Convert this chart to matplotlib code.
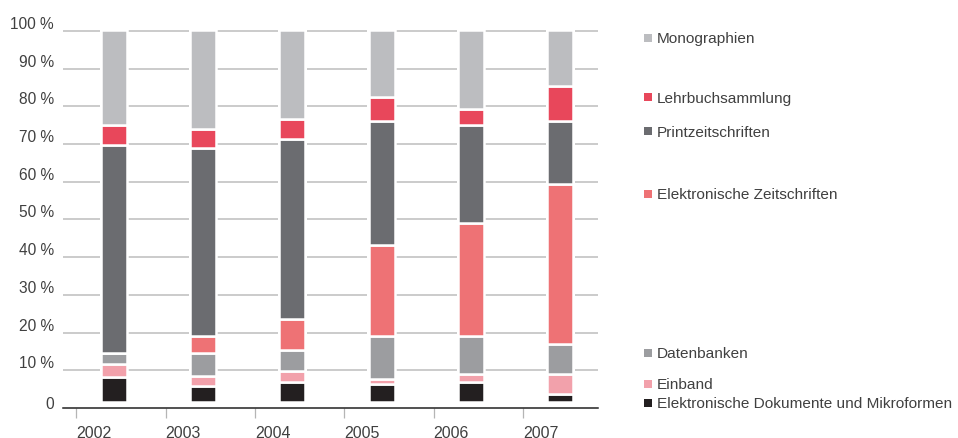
import matplotlib.pyplot as plt
from matplotlib.patches import Rectangle
from matplotlib.transforms import ScaledTranslation
import numpy as np

plt.rcParams['font.family'] = ['Liberation Sans', 'DejaVu Sans']

# Data: share of acquisition budget per year (percent), bottom to top of the stack
years = ['2002', '2003', '2004', '2005', '2006', '2007']
edokumente = [6.6, 4.2, 5.5, 4.9, 5.4, 2.1]
einband = [3.7, 2.7, 2.9, 1.3, 2.1, 5.4]
datenbanken = [2.8, 6.3, 5.5, 11.6, 10.3, 8.1]
ezeitschriften = [0.0, 4.5, 8.4, 24.4, 30.2, 42.9]
printzeitschriften = [56.1, 50.6, 48.4, 33.3, 26.4, 17.1]
lehrbuch = [5.2, 5.1, 5.3, 6.5, 4.3, 9.2]
monographien = [25.6, 26.6, 24.0, 18.0, 21.3, 15.2]

series = [edokumente, einband, datenbanken, ezeitschriften,
          printzeitschriften, lehrbuch, monographien]
names = ['Elektronische Dokumente und Mikroformen', 'Einband', 'Datenbanken',
         'Elektronische Zeitschriften', 'Printzeitschriften',
         'Lehrbuchsammlung', 'Monographien']
colors = ['#231f20', '#f2a1ab', '#9c9da0', '#ee7275', '#6b6c70',
          '#e8475b', '#bcbdc0']

# legend rows are placed next to the bars (pixel y from top), same order as series
legend_y_px = [403.8, 384.8, 353.8, 194.8, 132.2, 98.0, 38.8]

text_color = '#404040'
W, H = 958, 439

fig = plt.figure(figsize=(W / 100, H / 100), dpi=100)
ax = fig.add_axes([63 / W, (H - 409) / H, (598 - 63) / W, (409 - 28.2) / H])

x = np.arange(len(years))
ax.set_xlim(-0.569, 5.422)
ax.set_ylim(0, 101)

# bars sit slightly above the axis line, like in the original layout
base = 1.6
squeeze = (100.27 - base) / 100

for yv in range(10, 101, 10):
    ax.axhline(yv, color='#bdbdbd', lw=1.1, zorder=0)

# white backing to break the gridlines around each bar
ax.bar(x, 100 * squeeze + 1.0, bottom=base - 0.5, width=0.32,
       color='white', zorder=1)

bottom = np.full(len(years), base)
for vals, col in zip(series, colors):
    h = np.array(vals) * squeeze
    ax.bar(x, h, bottom=bottom, width=0.29, color=col,
           edgecolor='white', linewidth=1.8, zorder=2)
    bottom = bottom + h

for s in ['top', 'left', 'right']:
    ax.spines[s].set_visible(False)
ax.spines['bottom'].set_color('#222222')
ax.spines['bottom'].set_linewidth(1.1)

ax.set_xticks(x - 0.42)
ax.set_xticklabels(years)
ax.tick_params(axis='x', length=7, width=0.9, color='#b5b5b5', pad=5,
               labelsize=11.5, labelcolor=text_color)
for lbl in ax.get_xticklabels():
    lbl.set_ha('left')

yt = list(range(0, 101, 10))
ax.set_yticks(yt)
ax.set_yticklabels(['0'] + [f'{v} %' for v in yt[1:]])
ax.tick_params(axis='y', length=0, pad=6.5, labelsize=11.2, labelcolor=text_color)
for v, lbl in zip(yt, ax.get_yticklabels()):
    up = 6 if v == 0 else 9
    lbl.set_transform(lbl.get_transform() + ScaledTranslation(0, up / 100, fig.dpi_scale_trans))

# legend on the right
for name, col, ypx in zip(names, colors, legend_y_px):
    fig.patches.append(Rectangle((644 / W, (H - ypx - 4) / H), 8 / W, 8 / H,
                                 transform=fig.transFigure, facecolor=col,
                                 edgecolor='none'))
    fig.text(657 / W, (H - ypx - 4.5) / H, name, fontsize=11.1, color=text_color,
             ha='left', va='baseline')

fig.savefig('out.png', dpi=100)
